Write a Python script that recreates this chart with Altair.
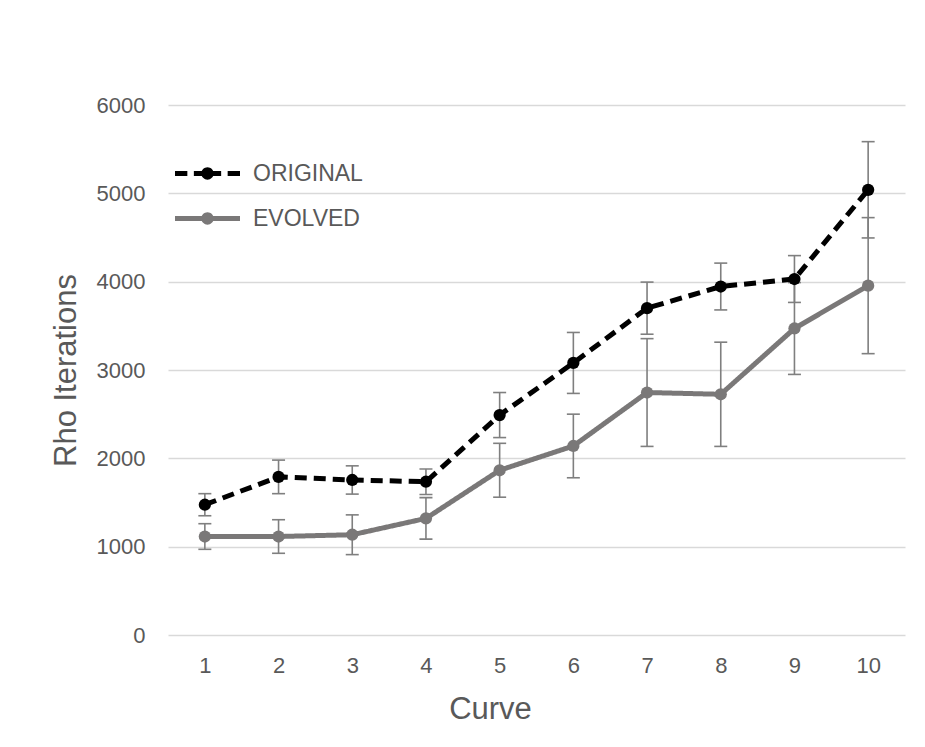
import altair as alt
import pandas as pd

curves = [1, 2, 3, 4, 5, 6, 7, 8, 9, 10]
series_names = ["ORIGINAL", "EVOLVED"]
orig_mean = [1475, 1790, 1755, 1735, 2490, 3080, 3700, 3945, 4030, 5040]
orig_err = [125, 190, 160, 145, 255, 345, 295, 265, 265, 545]
evol_mean = [1115, 1115, 1135, 1320, 1865, 2140, 2745, 2725, 3470, 3955]
evol_err = [145, 190, 225, 235, 305, 360, 610, 590, 520, 770]
y_ticks = [0, 1000, 2000, 3000, 4000, 5000, 6000]

rows = []
for name, means, errs in [("ORIGINAL", orig_mean, orig_err), ("EVOLVED", evol_mean, evol_err)]:
    for c, m, e in zip(curves, means, errs):
        rows.append({"Curve": c, "Series": name, "Legend": name, "Value": m, "Lo": m - e, "Hi": m + e})
df = pd.DataFrame(rows)

FONT = "Liberation Sans"
TXT = "#595959"
colors = ["#000000", "#7a7878"]

# legend symbol shapes (line + dot), unit coordinates
h = 0.075
r = 0.19
def rect(x1, x2):
    return f"M{x1},{-h}L{x2},{-h}L{x2},{h}L{x1},{h}Z"
circle = f"M{-r},0A{r},{r} 0 1 1 {r},0A{r},{r} 0 1 1 {-r},0Z"
shape_orig = rect(-1, -0.62) + rect(-0.42, 0.42) + rect(0.62, 1) + circle
shape_evol = rect(-1, 1) + circle

x_enc = alt.X("Curve:O", scale=alt.Scale(type="point", padding=0.5),
              axis=alt.Axis(title="Curve", labelAngle=0, domain=False, ticks=False, tickSize=0,
                            grid=False, labelFont=FONT, labelFontSize=22, labelColor=TXT,
                            labelPadding=37, labelBaseline="alphabetic",
                            titleFont=FONT, titleFontSize=31, titleFontWeight="normal", titleColor=TXT,
                            titleX=322, titleY=83, titleBaseline="alphabetic"))
y_scale = alt.Scale(domain=[0, 6000], nice=False)
y_enc = alt.Y("Value:Q", scale=y_scale,
              axis=alt.Axis(title="Rho Iterations", values=y_ticks, format="d", domain=False, ticks=False,
                            tickSize=0, grid=True, gridColor="#d9d9d9", gridWidth=1.3,
                            labelFont=FONT, labelFontSize=22, labelColor=TXT, labelPadding=23,
                            titleFont=FONT, titleFontSize=31, titleFontWeight="normal", titleColor=TXT,
                            titleX=-102, titleY=265, titleBaseline="middle", titleAlign="center"))
color_scale = alt.Scale(domain=series_names, range=colors)

base = alt.Chart(df)

leg = alt.Legend(title=None, orient="none", legendX=7, legendY=36,
                 symbolSize=4225, symbolStrokeWidth=0, labelFont=FONT,
                 labelFontSize=23, labelColor=TXT, labelOffset=13,
                 rowPadding=-2, symbolOffset=0, padding=0)
legend_layer = base.mark_point(filled=True, size=0, opacity=1, strokeWidth=0).encode(
    x=x_enc, y=y_enc,
    fill=alt.Fill("Legend:N", scale=alt.Scale(domain=series_names, range=colors), legend=leg),
    shape=alt.Shape("Legend:N", scale=alt.Scale(domain=series_names, range=[shape_orig, shape_evol]), legend=leg))

err_rule = base.mark_rule(color="#7f7f7f", strokeWidth=1.6).encode(
    x="Curve:O", y=alt.Y("Lo:Q", scale=y_scale), y2="Hi:Q")
err_lo = base.mark_tick(color="#7f7f7f", thickness=1.6, size=13, opacity=1).encode(
    x="Curve:O", y=alt.Y("Lo:Q", scale=y_scale))
err_hi = base.mark_tick(color="#7f7f7f", thickness=1.6, size=13, opacity=1).encode(
    x="Curve:O", y=alt.Y("Hi:Q", scale=y_scale))

lines = base.mark_line(strokeWidth=5).encode(
    x="Curve:O", y=alt.Y("Value:Q", scale=y_scale),
    color=alt.Color("Series:N", scale=color_scale, legend=None),
    strokeDash=alt.StrokeDash("Series:N", scale=alt.Scale(domain=series_names, range=[[12, 7], [1, 0]]), legend=None),
    detail="Series:N")

points = base.mark_point(filled=True, size=150, opacity=1, shape="circle").encode(
    x="Curve:O", y=alt.Y("Value:Q", scale=y_scale),
    color=alt.Color("Series:N", scale=color_scale, legend=None))

chart = alt.layer(legend_layer, err_rule, err_lo, err_hi, lines, points).properties(
    width=737, height=530, autosize="none",
    padding={"left": 168, "top": 105, "right": 20, "bottom": 112},
    background="white"
).configure_view(stroke=None)

chart.save("out.html", embed_options={"renderer": "svg", "actions": False})
